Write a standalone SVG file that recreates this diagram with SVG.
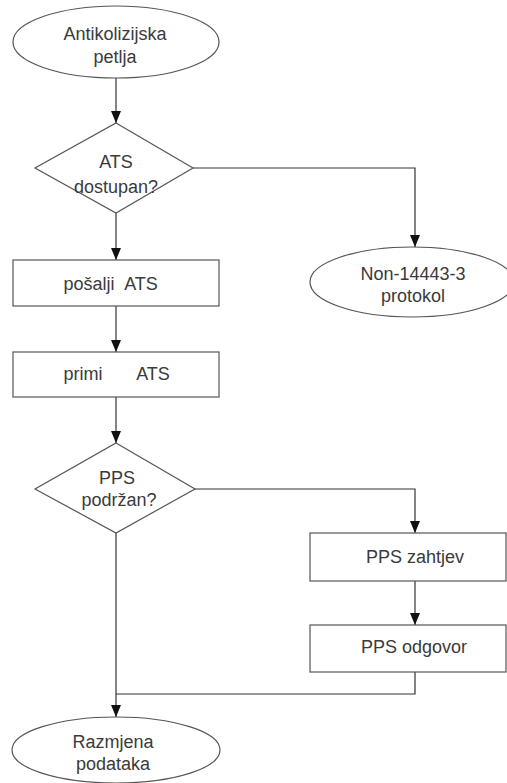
<svg xmlns="http://www.w3.org/2000/svg" width="507" height="783" viewBox="0 0 507 783">
  <style>
    .shape { fill: #ffffff; stroke: #555555; stroke-width: 1.2; }
    .edge { fill: none; stroke: #333333; stroke-width: 1.2; }
    .head { fill: #111111; }
    text { font-family: "Liberation Sans", Arial, sans-serif; font-size: 18px; fill: #3a3a3a; text-anchor: middle; }
  </style>
  <defs>
    <!-- downward arrowhead, tip at the origin -->
    <path id="head" class="head" d="M-5,-12 L5,-12 L0,0 Z"/>
  </defs>
  <rect width="507" height="783" fill="#ffffff"/>

  <g id="connectors">
    <path class="edge" d="M116,78 L116,123"/>
    <path class="edge" d="M193,168 L415,168 L415,247"/>
    <path class="edge" d="M116,213 L116,260"/>
    <path class="edge" d="M116,306 L116,352"/>
    <path class="edge" d="M116,397 L116,443"/>
    <path class="edge" d="M195,489 L415,489 L415,533"/>
    <path class="edge" d="M415,581 L415,625"/>
    <path class="edge" d="M116,533 L116,717"/>
    <path class="edge" d="M415,672 L415,694 L116,694"/>
    <use href="#head" x="116" y="123"/>
    <use href="#head" x="415" y="247"/>
    <use href="#head" x="116" y="260"/>
    <use href="#head" x="116" y="352"/>
    <use href="#head" x="116" y="443"/>
    <use href="#head" x="415" y="533"/>
    <use href="#head" x="415" y="625"/>
    <use href="#head" x="116" y="717"/>
  </g>

  <g id="start">
    <ellipse class="shape" cx="116" cy="42" rx="103" ry="36"/>
    <text x="115" y="40">Antikolizijska</text>
    <text x="115" y="63">petlja</text>
  </g>

  <g id="ats-available">
    <polygon class="shape" points="116,123 193,168 116,213 35,168"/>
    <text x="116" y="168">ATS</text>
    <text x="116" y="193">dostupan?</text>
  </g>

  <g id="non-14443">
    <ellipse class="shape" cx="412" cy="282" rx="102" ry="35"/>
    <text x="413" y="280">Non-14443-3</text>
    <text x="413" y="302">protokol</text>
  </g>

  <g id="send-ats">
    <rect class="shape" x="13" y="260" width="206" height="46"/>
    <text x="89" y="290">pošalji</text>
    <text x="141" y="290">ATS</text>
  </g>

  <g id="receive-ats">
    <rect class="shape" x="13" y="352" width="206" height="45"/>
    <text x="83" y="380">primi</text>
    <text x="153" y="380">ATS</text>
  </g>

  <g id="pps-supported">
    <polygon class="shape" points="116,443 195,489 116,533 35,489"/>
    <text x="117" y="484">PPS</text>
    <text x="119" y="506">podržan?</text>
  </g>

  <g id="pps-request">
    <rect class="shape" x="310" y="533" width="196" height="48"/>
    <text x="415" y="563">PPS zahtjev</text>
  </g>

  <g id="pps-response">
    <rect class="shape" x="310" y="625" width="196" height="47"/>
    <text x="414" y="653">PPS odgovor</text>
  </g>

  <g id="data-exchange">
    <ellipse class="shape" cx="116" cy="750" rx="104" ry="33"/>
    <text x="113" y="748">Razmjena</text>
    <text x="113" y="770">podataka</text>
  </g>
</svg>
